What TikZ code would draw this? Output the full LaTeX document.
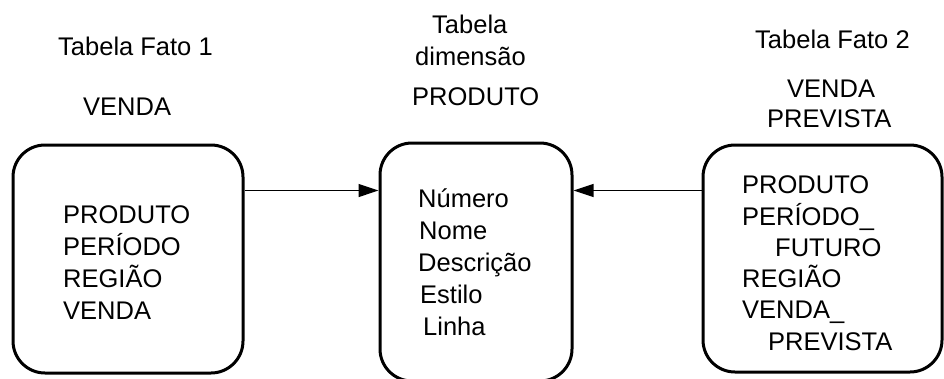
\documentclass[tikz,border=0pt]{standalone}
\usepackage{fontspec}
\setmainfont{Liberation Sans}
\usetikzlibrary{arrows.meta}
\tikzset{
  tablebox/.style={draw, line width=3pt, rounded corners=32pt, inner sep=0pt},
  label/.style={anchor=base west, inner sep=0pt, font=\fontsize{25.5}{32}\selectfont},
  link/.style={line width=1.2pt, -{Triangle[length=20pt,width=13pt]}}
}
\begin{document}
\begin{tikzpicture}[x=1pt,y=-1pt]
  \useasboundingbox (0,0) rectangle (944,378);
  \clip (0,0) rectangle (944,378);

  % table boxes
  \node[tablebox, minimum width=230pt, minimum height=228pt] (fato1) at (128,259) {};
  \node[tablebox, minimum width=192pt, minimum height=238pt] (dim) at (476,262) {};
  \node[tablebox, minimum width=239pt, minimum height=227pt] (fato2) at (822.5,258.5) {};

  % headings
  \node[label] (h1a) at (58,55) {Tabela Fato 1};
  \node[label] (h1b) at (83,115) {VENDA};
  \node[label] (h2a) at (432,33) {Tabela};
  \node[label] (h2b) at (415,65) {dimensão};
  \node[label] (h2c) at (412,105) {PRODUTO};
  \node[label] (h3a) at (755,48) {Tabela Fato 2};
  \node[label] (h3b) at (787,97) {VENDA};
  \node[label] (h3c) at (767,127) {PREVISTA};

  % fields of the first fact table
  \node[label] (f1a) at (63,223) {PRODUTO};
  \node[label] (f1b) at (63,255) {PERÍODO};
  \node[label] (f1c) at (63,287) {REGIÃO};
  \node[label] (f1d) at (63,319) {VENDA};

  % fields of the dimension table
  \node[label] (d1) at (418,207) {Número};
  \node[label] (d2) at (419,239) {Nome};
  \node[label] (d3) at (418,271) {Descrição};
  \node[label] (d4) at (420,303) {Estilo};
  \node[label] (d5) at (423,335) {Linha};

  % fields of the second fact table
  \node[label] (f2a) at (742,193) {PRODUTO};
  \node[label] (f2b) at (742,225) {PERÍODO\_};
  \node[label] (f2c) at (775,256) {FUTURO};
  \node[label] (f2d) at (742,287) {REGIÃO};
  \node[label] (f2e) at (742,318) {VENDA\_};
  \node[label] (f2f) at (768,350) {PREVISTA};

  % references to the dimension table
  \draw[link] ([yshift=-47pt]fato1.north east) -- ([yshift=-49pt]dim.north west);
  \draw[link] ([yshift=-47pt]fato2.north west) -- ([yshift=-49pt]dim.north east);
\end{tikzpicture}
\end{document}
